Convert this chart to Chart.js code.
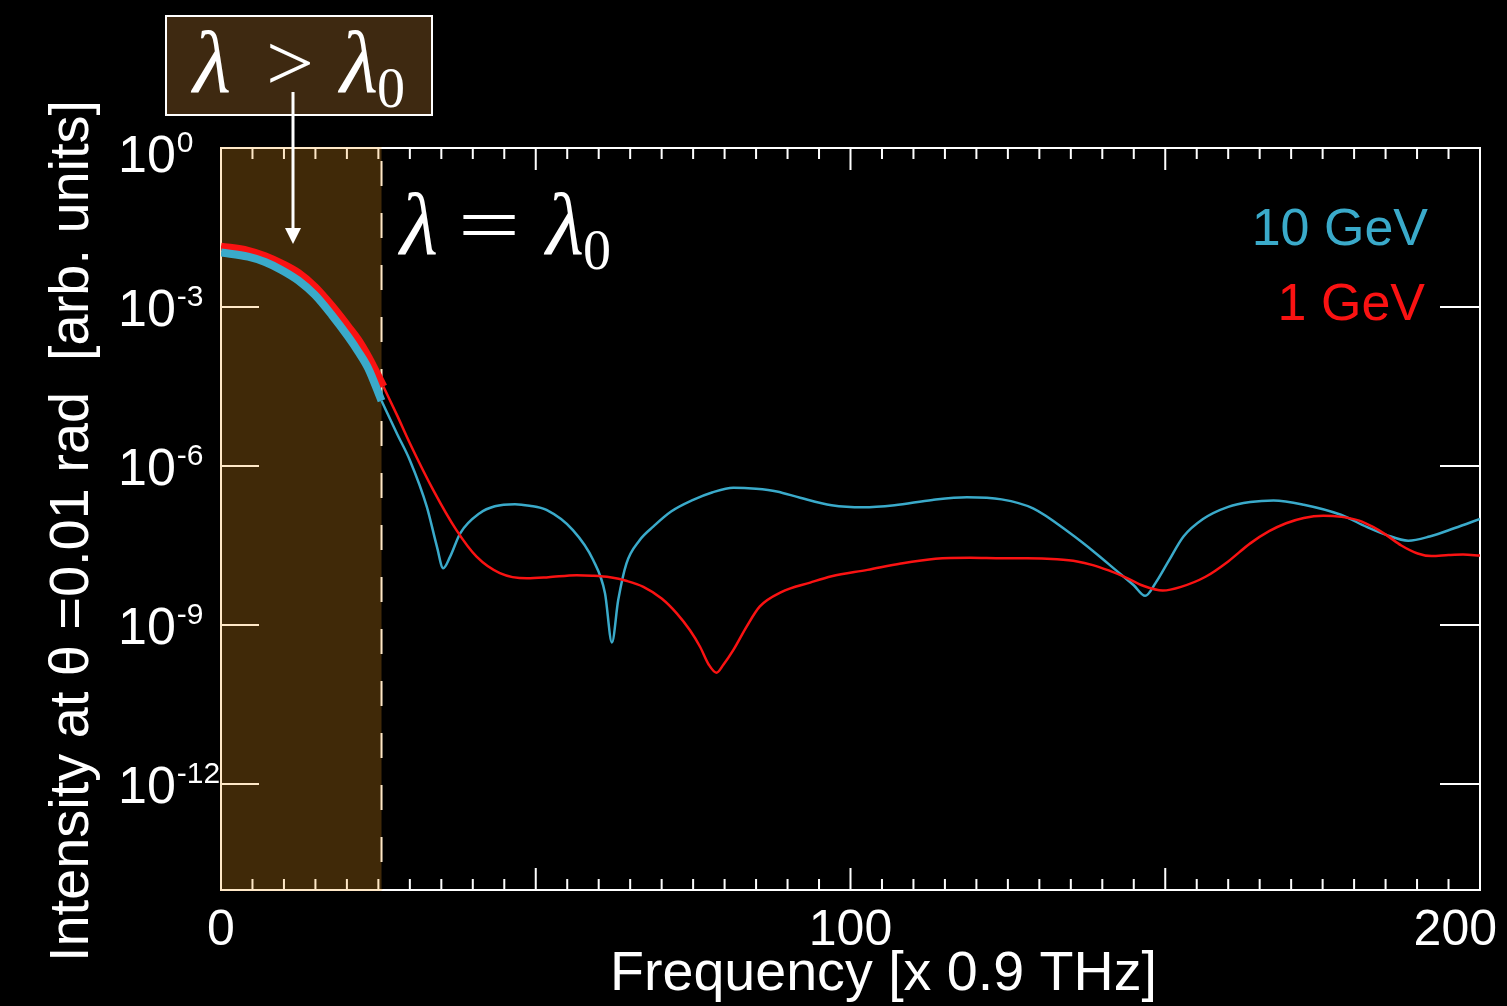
<!DOCTYPE html>
<html>
<head>
<meta charset="utf-8">
<script src="https://cdn.jsdelivr.net/npm/chart.js@4.4.1/dist/chart.umd.min.js"></script>
<style>
  html, body { margin: 0; padding: 0; background: #000; overflow: hidden; }
  canvas { display: block; }
</style>
</head>
<body>
<canvas id="c" width="1507" height="1006"></canvas>
<script>
// Spectra: frequency in units of 0.9 THz, intensity stored as log10 exponents
const blueFreq = [0, 4.3, 7, 9.6, 12.3, 14.9, 17.6, 20.2, 21.8, 23.4, 25.5,
  28, 30, 32.7, 34.3, 35.3, 36.4, 38, 41.1, 43.5, 46.7,
  49, 51.7, 55.9, 59.1, 61, 62.1, 63.1, 64.4, 66.5, 68.7,
  71.5, 75, 78, 81.4, 85, 88.3, 92, 97, 102, 107,
  113, 118.5, 124, 129, 134.9, 139, 142.1, 145, 146.8, 148.5,
  150.5, 152.9, 156, 160, 163.5, 167.2, 172, 177.9, 182, 185.1,
  188.6, 192, 196, 200];
const blueExp = [-1.97, -2.05, -2.15, -2.3, -2.5, -2.77, -3.15, -3.56, -3.84, -4.16, -4.77,
  -5.4, -5.89, -6.77, -7.52, -7.93, -7.71, -7.27, -6.89, -6.76, -6.72,
  -6.75, -6.83, -7.21, -7.77, -8.4, -9.33, -8.53, -7.84, -7.4, -7.14,
  -6.86, -6.64, -6.5, -6.41, -6.43, -6.48, -6.6, -6.74, -6.78, -6.74,
  -6.64, -6.59, -6.63, -6.8, -7.27, -7.65, -7.96, -8.25, -8.45, -8.2,
  -7.8, -7.33, -7.0, -6.77, -6.68, -6.65, -6.73, -6.92, -7.15, -7.3,
  -7.41, -7.33, -7.17, -7.0];

const redFreq = [0, 4.3, 7, 9.6, 12.3, 14.9, 17.6, 20.2, 21.8, 23.4, 25.8,
  28, 30, 33.7, 37.4, 40.6, 44.3, 48.6, 52, 56.5, 59,
  61.8, 64.5, 67.1, 70, 72.4, 74.5, 76.1, 77.5, 78.7, 79.8,
  81.4, 83.5, 85.6, 89, 93.6, 97, 102.7, 108, 113.5, 119,
  124.2, 128, 132.8, 136, 138.5, 141, 143.5, 146.5, 149.6, 152.5,
  156.4, 160, 163.5, 166.5, 169.2, 172, 175.1, 178, 180.8, 183,
  185.1, 187.5, 190.1, 192.3, 195, 197.3, 200];
const redExp = [-1.86, -1.94, -2.04, -2.18, -2.36, -2.62, -2.98, -3.37, -3.62, -3.94, -4.5,
  -5.05, -5.57, -6.45, -7.21, -7.71, -8.02, -8.12, -8.1, -8.06, -8.07,
  -8.1, -8.17, -8.28, -8.5, -8.78, -9.1, -9.41, -9.75, -9.9, -9.75,
  -9.47, -9.03, -8.65, -8.38, -8.2, -8.08, -7.96, -7.84, -7.75, -7.73,
  -7.74, -7.74, -7.76, -7.8, -7.87, -7.97, -8.09, -8.26, -8.35, -8.28,
  -8.09, -7.8, -7.46, -7.23, -7.08, -6.98, -6.94, -6.96, -7.03, -7.15,
  -7.3, -7.5, -7.65, -7.7, -7.68, -7.67, -7.69];

const xTickLabels = [0, 100, 200];
const yTickExps = [0, -3, -6, -9, -12];
const seriesNames = ['10 GeV', '1 GeV'];
const bandEnd = 25.5;   // λ = λ0 boundary

const BLUE = 'rgb(58,170,202)';
const RED = 'rgb(250,18,18)';
const SANS = '"Liberation Sans", Arial, Helvetica, sans-serif';
const SERIF = '"Liberation Serif", "DejaVu Serif", serif';

function points(fs, es) {
  return fs.map((f, i) => ({ x: f, y: Math.pow(10, es[i]) }));
}
// thick part inside the band, thin part after it (sharing the boundary point)
function split(fs, es) {
  const pts = points(fs, es);
  const k = fs.findIndex(f => f > bandEnd + 0.5) - 1;
  return { thick: pts.slice(0, k + 1), thin: pts.slice(k) };
}
const blue = split(blueFreq, blueExp);
const red = split(redFreq, redExp);

function fitText(ctx, text, x, y, width, align) {
  const w = ctx.measureText(text).width;
  const s = width / w;
  ctx.save();
  ctx.translate(x, y);
  ctx.scale(s, 1);
  ctx.textAlign = align || 'left';
  ctx.fillText(text, 0, 0);
  ctx.restore();
}

// λ <op> λ0 written with an italic lambda and an upright subscript zero
function lambdaRelation(ctx, op, left, base, opLeft, opWidth, lam2Left) {
  ctx.textAlign = 'left';
  ctx.font = `italic 88px ${SERIF}`;
  ctx.fillText('\u03bb', left, base);
  ctx.fillText('\u03bb', lam2Left, base);
  const lw = ctx.measureText('\u03bb').width;
  ctx.font = `80px ${SERIF}`;
  fitText(ctx, op, opLeft, base - 2, opWidth, 'left');
  ctx.font = `56px ${SERIF}`;
  ctx.fillText('0', lam2Left + lw - 1, base + 15);
}

const decor = {
  id: 'decor',
  beforeDraw(chart) {
    const ctx = chart.ctx;
    ctx.save();
    ctx.fillStyle = '#000';
    ctx.fillRect(0, 0, chart.width, chart.height);
    ctx.restore();
  },
  beforeDatasetsDraw(chart) {
    const { ctx, chartArea: a, scales: { x, y } } = chart;
    ctx.save();
    // frame
    ctx.strokeStyle = '#fff';
    ctx.lineWidth = 2;
    ctx.strokeRect(a.left, a.top, a.right - a.left, a.bottom - a.top);
    // x ticks, inward on bottom and top
    ctx.beginPath();
    for (let v = 0; v <= 200; v += 5) {
      const px = x.getPixelForValue(v);
      const len = v % 50 === 0 ? 22 : 11;
      ctx.moveTo(px, a.bottom); ctx.lineTo(px, a.bottom - len);
      ctx.moveTo(px, a.top); ctx.lineTo(px, a.top + len);
    }
    // y ticks on both sides
    yTickExps.forEach(e => {
      const py = y.getPixelForValue(Math.pow(10, e));
      ctx.moveTo(a.left, py); ctx.lineTo(a.left + 38, py);
      ctx.moveTo(a.right - 40, py); ctx.lineTo(a.right, py);
    });
    ctx.stroke();

    // λ > λ0 band
    const bx = x.getPixelForValue(bandEnd);
    ctx.fillStyle = 'rgba(255,165,32,0.25)';
    ctx.fillRect(a.left - 1, a.top - 1, bx - a.left + 1, a.bottom - a.top + 2);
    ctx.strokeStyle = 'rgb(255,232,199)';
    ctx.lineWidth = 2;
    ctx.setLineDash([25, 27]);
    ctx.lineDashOffset = -13;
    ctx.beginPath();
    ctx.moveTo(bx, a.top); ctx.lineTo(bx, a.bottom);
    ctx.stroke();
    ctx.setLineDash([]);

    // tick labels
    ctx.fillStyle = '#fff';
    ctx.textBaseline = 'alphabetic';
    ctx.font = `50px ${SANS}`;
    ctx.textAlign = 'center';
    xTickLabels.forEach(v => {
      const t = String(v);
      const w = ctx.measureText(t).width;
      let cx = x.getPixelForValue(v);
      if (cx + w / 2 > chart.width - 10) cx = chart.width - 10 - w / 2;
      ctx.fillText(t, cx, 945);
    });
    ctx.textAlign = 'left';
    yTickExps.forEach(e => {
      const py = y.getPixelForValue(Math.pow(10, e));
      const base = Math.max(py + 19, a.top + 24);
      ctx.font = `52px ${SANS}`;
      ctx.fillText('10', 118, base);
      const w = ctx.measureText('10').width;
      ctx.font = `30px ${SANS}`;
      ctx.fillText(String(e), 118 + w + 1, base - 20);
    });

    // axis titles
    ctx.font = `55px ${SANS}`;
    fitText(ctx, 'Frequency [x 0.9 THz]', 883.5, 990, 547, 'center');
    ctx.save();
    ctx.translate(88, 531);
    ctx.rotate(-Math.PI / 2);
    ctx.font = `56px ${SANS}`;
    fitText(ctx, 'Intensity at \u03b8 =0.01 rad  [arb. units]', 0, 0, 862, 'center');
    ctx.restore();
    ctx.restore();
  },
  afterDatasetsDraw(chart) {
    const ctx = chart.ctx;
    ctx.save();
    // boxed label with arrow
    ctx.fillStyle = 'rgb(62,41,17)';
    ctx.fillRect(165, 15, 268, 101);
    ctx.strokeStyle = '#fff';
    ctx.lineWidth = 2;
    ctx.strokeRect(166, 16, 266, 99);

    ctx.fillStyle = '#fff';
    ctx.textBaseline = 'alphabetic';
    lambdaRelation(ctx, '>', 193, 92, 266, 48, 340);

    ctx.strokeStyle = '#fff';
    ctx.lineWidth = 3;
    ctx.beginPath();
    ctx.moveTo(293, 92); ctx.lineTo(293, 230);
    ctx.stroke();
    ctx.beginPath();
    ctx.moveTo(285, 228); ctx.lineTo(301, 228); ctx.lineTo(293, 244);
    ctx.closePath();
    ctx.fill();

    // λ = λ0
    lambdaRelation(ctx, '=', 400, 254, 458, 62, 546);

    // series labels
    ctx.font = `52px ${SANS}`;
    ctx.textAlign = 'right';
    ctx.fillStyle = BLUE;
    ctx.fillText(seriesNames[0], 1428, 245);
    ctx.fillStyle = RED;
    ctx.fillText(seriesNames[1], 1425, 320);
    ctx.restore();
  }
};

const lineStyle = { pointRadius: 0, cubicInterpolationMode: 'monotone', borderJoinStyle: 'round', fill: false };

new Chart(document.getElementById('c'), {
  type: 'line',
  data: {
    datasets: [
      { ...lineStyle, label: seriesNames[0], data: blue.thick, borderColor: BLUE, borderWidth: 8, borderCapStyle: 'butt', order: 0 },
      { ...lineStyle, label: seriesNames[1], data: red.thick, borderColor: RED, borderWidth: 8, borderCapStyle: 'butt', order: 1 },
      { ...lineStyle, label: seriesNames[1], data: red.thin, borderColor: RED, borderWidth: 2.5, order: 2 },
      { ...lineStyle, label: seriesNames[0], data: blue.thin, borderColor: BLUE, borderWidth: 2.5, order: 3 }
    ]
  },
  options: {
    responsive: false,
    animation: false,
    devicePixelRatio: 1,
    events: [],
    layout: { padding: { left: 221, right: 27, top: 148, bottom: 116 } },
    plugins: { legend: { display: false }, tooltip: { enabled: false } },
    scales: {
      x: { type: 'linear', min: 0, max: 200, display: false },
      y: { type: 'logarithmic', min: 1e-14, max: 1, display: false }
    }
  },
  plugins: [decor]
});
</script>
</body>
</html>
